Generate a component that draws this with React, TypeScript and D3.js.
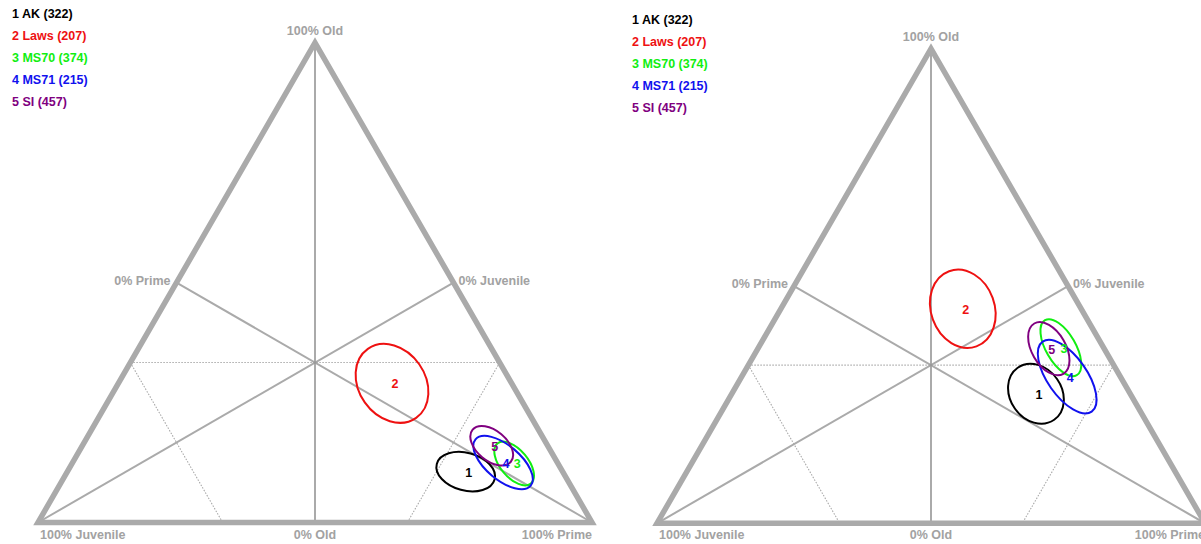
import React from "react";
import * as d3 from "d3";

// ---- data ----
const groupNames = ["AK", "Laws", "MS70", "MS71", "SI"];
const groupCounts = [322, 207, 374, 215, 457];
const groupColors = ["#000000", "#ee1111", "#11ee11", "#1111ee", "#800080"];

// panel A (left): ellipse centres as composition (Prime, Old), Juvenile = 1 - Prime - Old
const leftPrime = [0.719, 0.494, 0.798, 0.777, 0.739];
const leftOld = [0.106, 0.29, 0.123, 0.125, 0.16];
const leftSemiMajor = [0.054, 0.076, 0.047, 0.065, 0.045];
const leftSemiMinor = [0.034, 0.06, 0.025, 0.031, 0.027];
const leftAngle = [15, 55, 50, 40, 40];

// panel B (right)
const rightPrime = [0.555, 0.332, 0.552, 0.594, 0.531];
const rightOld = [0.273, 0.452, 0.37, 0.309, 0.368];
const rightSemiMajor = [0.058, 0.073, 0.058, 0.078, 0.053];
const rightSemiMinor = [0.047, 0.058, 0.027, 0.036, 0.031];
const rightAngle = [55, 70, 60, 55, 60];

const cornerLabels = ["100% Juvenile", "100% Prime", "100% Old"];
const midLabels = ["0% Old", "0% Prime", "0% Juvenile"];

const FONT = "'Liberation Sans', Arial, Helvetica, sans-serif";
const AXIS_GREY = "#aaaaaa";
const LABEL_GREY = "#a2a2a2";
const FS = 12.5;

type PanelProps = {
  left: number;
  side: number;
  base: number;
  prime: number[];
  old: number[];
  semiA: number[];
  semiB: number[];
  angle: number[];
  legendX: number;
  legendY: number;
};

function Panel(p: PanelProps) {
  const h = (p.side * Math.sqrt(3)) / 2;
  const xs = d3.scaleLinear().domain([0, 1]).range([p.left, p.left + p.side]);
  const ys = d3.scaleLinear().domain([0, 1]).range([p.base, p.base - h]);
  const proj = (pr: number, o: number): [number, number] => [xs(pr + o / 2), ys(o)];

  const L = proj(0, 0);
  const R = proj(1, 0);
  const T = proj(0, 1);
  const C = proj(1 / 3, 1 / 3);
  const mBase = proj(0.5, 0);
  const mLeft = proj(0, 0.5);
  const mRight = proj(0.5, 0.5);

  const line = d3.line();

  const dotted: [number, number][][] = [
    [proj(0, 1 / 3), proj(2 / 3, 1 / 3)],
    [proj(0, 1 / 3), proj(1 / 3, 0)],
    [proj(2 / 3, 1 / 3), proj(2 / 3, 0)],
  ];

  return (
    <g>
      {dotted.map((d, i) => (
        <path key={"d" + i} d={line(d) || ""} stroke="#aaaaaa" strokeWidth={1.1} strokeDasharray="1.5,1.5" fill="none" />
      ))}
      {[
        [L, mRight],
        [R, mLeft],
        [T, mBase],
      ].map((seg, i) => (
        <path key={"m" + i} d={line(seg as [number, number][]) || ""} stroke={AXIS_GREY} strokeWidth={2} fill="none" />
      ))}
      <path d={line([L, R, T]) + "Z"} stroke={AXIS_GREY} strokeWidth={5.5} fill="none" strokeLinejoin="miter" />
      <circle cx={C[0]} cy={C[1]} r={1.5} fill="#999" />

      <g fontFamily={FONT} fontSize={FS} fontWeight="bold" fill={LABEL_GREY}>
        <text x={L[0] + 2} y={p.base + 16} textAnchor="start">{cornerLabels[0]}</text>
        <text x={R[0]} y={p.base + 16} textAnchor="end">{cornerLabels[1]}</text>
        <text x={T[0]} y={T[1] - 8} textAnchor="middle">{cornerLabels[2]}</text>
        <text x={mBase[0]} y={p.base + 16} textAnchor="middle">{midLabels[0]}</text>
        <text x={mLeft[0] - 6} y={mLeft[1] + 2} textAnchor="end">{midLabels[1]}</text>
        <text x={mRight[0] + 5} y={mRight[1] + 2} textAnchor="start">{midLabels[2]}</text>
      </g>

      {groupNames.map((_, i) => {
        const [cx, cy] = proj(p.prime[i], p.old[i]);
        return (
          <ellipse
            key={"e" + i}
            cx={0}
            cy={0}
            rx={p.semiA[i] * p.side}
            ry={p.semiB[i] * p.side}
            transform={`translate(${cx},${cy}) rotate(${p.angle[i]})`}
            fill="none"
            stroke={groupColors[i]}
            strokeWidth={2}
          />
        );
      })}
      {groupNames.map((_, i) => {
        const [cx, cy] = proj(p.prime[i], p.old[i]);
        return (
          <text
            key={"t" + i}
            x={cx + 3}
            y={cy + 5}
            textAnchor="middle"
            fontFamily={FONT}
            fontSize={FS}
            fontWeight="bold"
            fill={groupColors[i]}
          >
            {i + 1}
          </text>
        );
      })}

      <g fontFamily={FONT} fontSize={FS} fontWeight="bold">
        {groupNames.map((n, i) => (
          <text key={"l" + i} x={p.legendX} y={p.legendY + i * 22} fill={groupColors[i]}>
            {`${i + 1} ${n} (${groupCounts[i]})`}
          </text>
        ))}
      </g>
    </g>
  );
}

export default function App() {
  return (
    <svg
      width={1201}
      height={544}
      style={{ position: "absolute", left: 0, top: 0, background: "#fff" }}
    >
      <rect width={1201} height={544} fill="#fff" />
      <Panel
        left={38}
        side={554}
        base={522.5}
        prime={leftPrime}
        old={leftOld}
        semiA={leftSemiMajor}
        semiB={leftSemiMinor}
        angle={leftAngle}
        legendX={12}
        legendY={18}
      />
      <Panel
        left={657}
        side={548}
        base={523.3}
        prime={rightPrime}
        old={rightOld}
        semiA={rightSemiMajor}
        semiB={rightSemiMinor}
        angle={rightAngle}
        legendX={632}
        legendY={24}
      />
    </svg>
  );
}
